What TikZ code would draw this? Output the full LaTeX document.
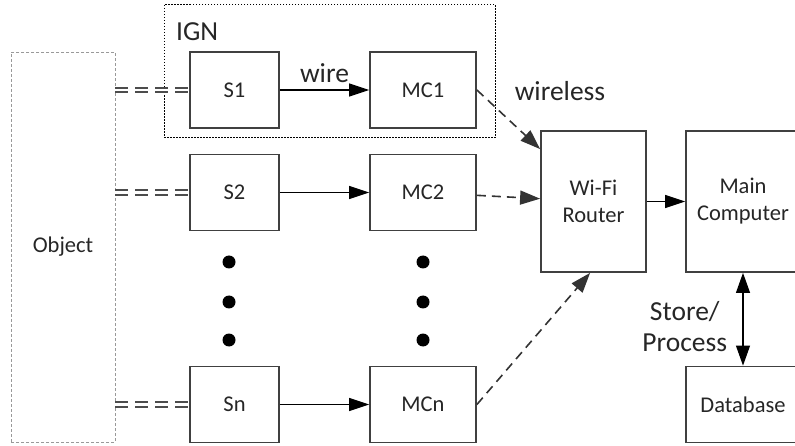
\documentclass[tikz,border=0pt]{standalone}
\usepackage{fontspec}
\setmainfont{Carlito}
\usetikzlibrary{arrows.meta,positioning}

\tikzset{
  block/.style={draw=black!75, line width=1.8pt, fill=white, inner sep=0pt,
    minimum width=89pt, minimum height=76pt, text=black!85,
    font=\fontsize{22.5}{27}\selectfont, align=center},
  mcblock/.style={block, minimum width=106pt},
  tallblock/.style={block, minimum height=141pt},
  tag/.style={text=black!85, font=\fontsize{27.5}{31}\selectfont, align=center},
  wired/.style={line width=1.1pt, -{Triangle[length=20pt,width=13pt]}},
  radio/.style={black!80, line width=1.6pt, dash pattern=on 9pt off 6pt,
    -{Triangle[length=20pt,width=14pt]}},
  probe/.style={black!70, line width=2.2pt, double, double distance=2.5pt,
    dash pattern=on 13pt off 7pt},
  vdot/.style={circle, fill=black, inner sep=0pt, minimum size=13pt},
}

\begin{document}
\begin{tikzpicture}[x=1pt, y=-1pt]
  \useasboundingbox (0,0) rectangle (795,446);

  % measured object and the node group
  \node[draw=black!40, line width=0.8pt, dash pattern=on 3pt off 2pt,
        minimum width=104pt, minimum height=390pt, inner sep=0pt,
        text=black!85, font=\fontsize{22.5}{27}\selectfont] (obj) at (63,247) {Object};
  \node[draw, line width=1pt, dash pattern=on 1.5pt off 1.5pt,
        minimum width=331pt, minimum height=133pt] (ign) at (329.5,71.5) {};
  \node[tag, anchor=west, inner sep=0pt] (ignlabel) at (176,32) {IGN};

  % sensors and microcontrollers
  \node[block] (s1) at (234.5,90) {S1};
  \node[block] (s2) at (234.5,192.5) {S2};
  \node[block] (sn) at (234.5,404.5) {Sn};
  \node[mcblock] (mc1) at (423,90) {MC1};
  \node[mcblock] (mc2) at (423,192.5) {MC2};
  \node[mcblock] (mcn) at (423,404.5) {MCn};

  \foreach \y [count=\i] in {262,302,340} {
    \node[vdot] (sdot\i) at (229,\y) {};
    \node[vdot] (mdot\i) at (423,\y) {};
  }

  % router, computer, storage
  \node[tallblock, minimum width=105pt] (router) at (593.5,201.5) {Wi-Fi\\Router};
  \node[tallblock, minimum width=114pt] (main) at (743,201.5) {Main\\Computer};
  \node[block, minimum width=114pt] (db) at (743,404.5) {Database};

  % links
  \foreach \k in {1,2,n} {
    \draw[probe] (obj.east |- s\k) -- (s\k);
  }
  \draw[wired] (s1) -- node[tag, above=3pt] (wire) {wire} (mc1);
  \draw[wired] (s2) -- (mc2);
  \draw[wired] (sn) -- (mcn);

  \node[tag] (wless) at (560,91) {wireless};
  \draw[radio] (mc1.east) -- ([yshift=-19pt]router.north west);
  \draw[radio] (mc2) -- (router);
  \draw[radio] (mcn.east) -- ([xshift=50pt]router.south west);

  \draw[wired] (router) -- (main);
  \draw[line width=1.1pt, {Triangle[length=20pt,width=14pt]}-{Triangle[length=20pt,width=14pt]}]
    (main) -- node[tag, left=12pt, yshift=-7pt] (store) {Store/\\Process} (db);
\end{tikzpicture}
\end{document}
